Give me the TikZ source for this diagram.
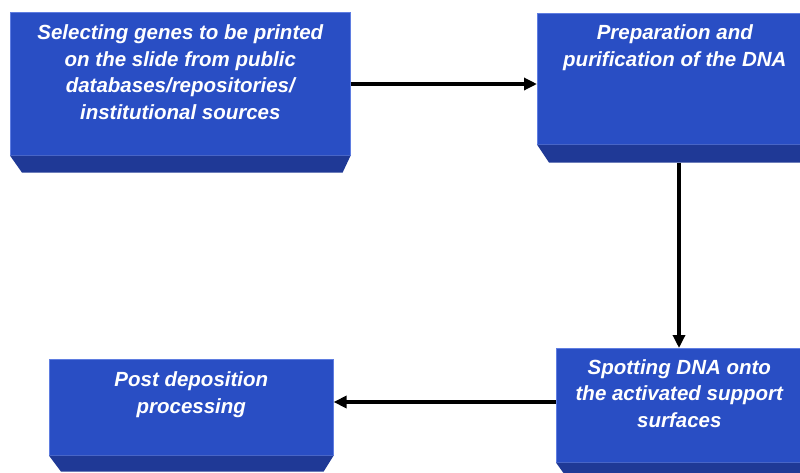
\documentclass[tikz,border=0pt]{standalone}
\usepackage{fontspec}
\setmainfont{Liberation Sans}
\usetikzlibrary{arrows.meta,calc,positioning}
\definecolor{faceblue}{RGB}{41,78,196}
\definecolor{edgeblue}{RGB}{95,125,225}
\definecolor{bevelblue}{RGB}{31,57,150}
\tikzset{
stepbox/.style={rectangle,fill=faceblue,draw=edgeblue,line width=0.6pt,anchor=north west,inner sep=0pt},
boxtext/.style={anchor=north,align=center,text=white,inner sep=0pt,
  font=\fontsize{20.5}{26.5}\selectfont\bfseries\itshape},
bevel/.style={fill=bevelblue},
flow/.style={line width=3.2pt,-{Triangle[length=13pt,width=12pt]}}
}
\begin{document}
\begin{tikzpicture}[x=1pt,y=-1pt]
\clip (0,0) rectangle (800,472);
\fill[white] (0,0) rectangle (800,472);
% boxes
\node[stepbox,minimum width=340pt,minimum height=143pt] (sel) at (10,12) {};
\node[stepbox,minimum width=275pt,minimum height=131pt] (prep) at (537,13) {};
\node[stepbox,minimum width=246pt,minimum height=114pt] (spot) at (556,348) {};
\node[stepbox,minimum width=284pt,minimum height=96pt] (post) at (49,359) {};
% bevels
\fill[bevel] (sel.south west) -- (sel.south east) -- ++(-8,17) -- ($(sel.south west)+(12,17)$) -- cycle;
\fill[bevel] (prep.south west) -- (prep.south east) -- ++(0,18) -- ($(prep.south west)+(12,18)$) -- cycle;
\fill[bevel] (spot.south west) -- (spot.south east) -- ++(0,14) -- ($(spot.south west)+(10,14)$) -- cycle;
\fill[bevel] (post.south west) -- (post.south east) -- ++(-10,16) -- ($(post.south west)+(12,16)$) -- cycle;
% texts
\node[boxtext] (seltext) at ($(sel.north)+(0,12.5)$) {Selecting genes to be printed\\on the slide from public\\databases/repositories/\\institutional sources};
\node[boxtext] (preptext) at ($(prep.north)+(0,11.5)$) {Preparation and\\purification of the DNA};
\node[boxtext] (spottext) at ($(spot.north)+(0,11)$) {Spotting DNA onto\\the activated support\\surfaces};
\node[boxtext] (posttext) at ($(post.north)+(0,12.5)$) {Post deposition\\processing};
% connectors
\coordinate (prepout) at ($(prep.south west)+(142,18)$);
\draw[flow] (sel.east|-0,84) -- (prep.west|-0,84);
\draw[flow] (prepout) -- (prepout|-spot.north);
\draw[flow] (spot.west|-0,402) -- (post.east|-0,402);
\end{tikzpicture}
\end{document}
